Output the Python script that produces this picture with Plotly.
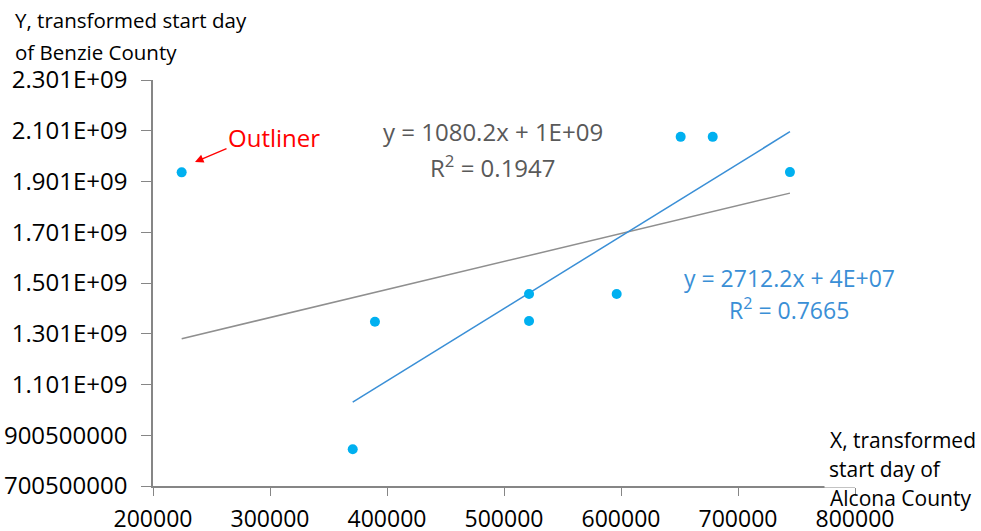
import numpy as np
import plotly.graph_objects as go

# ---- data ----
alcona_x = [224500, 389700, 370700, 521400, 521400, 596300, 651000, 678400, 744400]
benzie_y = [1936.5e6, 1347.5e6, 845e6, 1457e6, 1350.5e6, 1457e6, 2076.5e6, 2076.5e6, 1937.5e6]
outlier_index = 0

y_tickvals = [700.5e6, 900.5e6, 1100.5e6, 1300.5e6, 1500.5e6, 1700.5e6, 1900.5e6, 2100.5e6, 2300.5e6]
y_ticktext = ["700500000", "900500000", "1.101E+09", "1.301E+09", "1.501E+09",
              "1.701E+09", "1.901E+09", "2.101E+09", "2.301E+09"]
x_tickvals = [200000, 300000, 400000, 500000, 600000, 700000, 800000]
x_ticktext = ["200000", "300000", "400000", "500000", "600000", "700000", "800000"]

eq_all = ["y = 1080.2x + 1E+09", "R<sup>2</sup> = 0.1947"]
eq_no_outlier = ["y = 2712.2x + 4E+07", "R<sup>2</sup> = 0.7665"]
y_title = ["Y, transformed start day", "of Benzie County"]
x_title = ["X, transformed", "start day of", "Alcona County"]

FONT = "Open Sans"
GRAY_LINE = "#8f8f8f"
BLUE_LINE = "#3a8fd6"
DOT = "#00b0f0"

x = np.array(alcona_x, dtype=float)
y = np.array(benzie_y, dtype=float)

# trend line over all points
m1, b1 = np.polyfit(x, y, 1)
xa = np.array([x.min(), x.max()])
# trend line excluding outlier
mask = np.ones(len(x), bool)
mask[outlier_index] = False
m2, b2 = np.polyfit(x[mask], y[mask], 1)
xb = np.array([x[mask].min(), x[mask].max()])

fig = go.Figure()
fig.add_trace(go.Scatter(x=xa, y=m1 * xa + b1, mode="lines",
                         line=dict(color=GRAY_LINE, width=1.5), hoverinfo="skip"))
fig.add_trace(go.Scatter(x=xb, y=m2 * xb + b2, mode="lines",
                         line=dict(color=BLUE_LINE, width=1.5), hoverinfo="skip"))
fig.add_trace(go.Scatter(x=x, y=y, mode="markers",
                         marker=dict(color=DOT, size=10)))

L, R, T, B = 153, 126, 80, 45
W, H = 981, 531
pw, ph = W - L - R, H - T - B


def px(xp):
    return (xp - L) / pw


def py(yp):
    return (H - B - yp) / ph


ann = []
# equations
ann.append(dict(x=px(493), y=py(132), text=eq_all[0], font=dict(color="#595959", size=24)))
ann.append(dict(x=px(493), y=py(166), text=eq_all[1], font=dict(color="#595959", size=24)))
ann.append(dict(x=px(789), y=py(278), text=eq_no_outlier[0], font=dict(color=BLUE_LINE, size=23)))
ann.append(dict(x=px(789), y=py(309), text=eq_no_outlier[1], font=dict(color=BLUE_LINE, size=23)))
# outlier label and arrow
ann.append(dict(x=px(274), y=py(137), text="Outliner", font=dict(color="#ff0000", size=24)))
ann.append(dict(x=px(195), y=py(162), text="", showarrow=True, ax=33, ay=-14,
                arrowcolor="#ff0000", arrowwidth=1.3, arrowhead=2, arrowsize=1.3,
                axref="pixel", ayref="pixel"))
# axis titles
for i, t in enumerate(y_title):
    ann.append(dict(x=px(13), y=py(20 + 32 * i), text=t, xanchor="left",
                    font=dict(color="#000", size=20.5)))
# middle line of the x title has a white box that hides the axis line end
for i in (1, 0, 2):
    if i == 1:
        extra = dict(bgcolor="white", borderpad=4)
        left = 824
    else:
        extra = {}
        left = 828
    ann.append(dict(x=px(left), y=py(440 + 29 * i), text=x_title[i], xanchor="left",
                    font=dict(color="#000", size=21), **extra))

for a in ann:
    a.setdefault("xref", "paper")
    a.setdefault("yref", "paper")
    a.setdefault("showarrow", False)
    a.setdefault("yanchor", "middle")
    a.setdefault("xanchor", "center")

fig.update_layout(
    width=W, height=H,
    margin=dict(l=L, r=R, t=T, b=B, autoexpand=False),
    paper_bgcolor="white", plot_bgcolor="white",
    showlegend=False,
    font=dict(family=FONT, color="#000"),
    annotations=ann,
    xaxis=dict(range=[200000, 800000], tickvals=x_tickvals, ticktext=x_ticktext,
               showgrid=False, zeroline=False, showline=True, linecolor="#868686",
               linewidth=1.5, ticks="outside", ticklen=8, tickcolor="#868686",
               tickfont=dict(size=23, color="#000"), ticklabelstandoff=4,
               automargin=False),
    yaxis=dict(range=[700.5e6, 2300.5e6], tickvals=y_tickvals, ticktext=y_ticktext,
               showgrid=False, zeroline=False, showline=True, linecolor="#868686",
               linewidth=1.5, ticks="outside", ticklen=10, tickcolor="#868686",
               tickfont=dict(size=24, color="#000"), ticklabelstandoff=9,
               automargin=False),
)

fig.write_html("out.html")
